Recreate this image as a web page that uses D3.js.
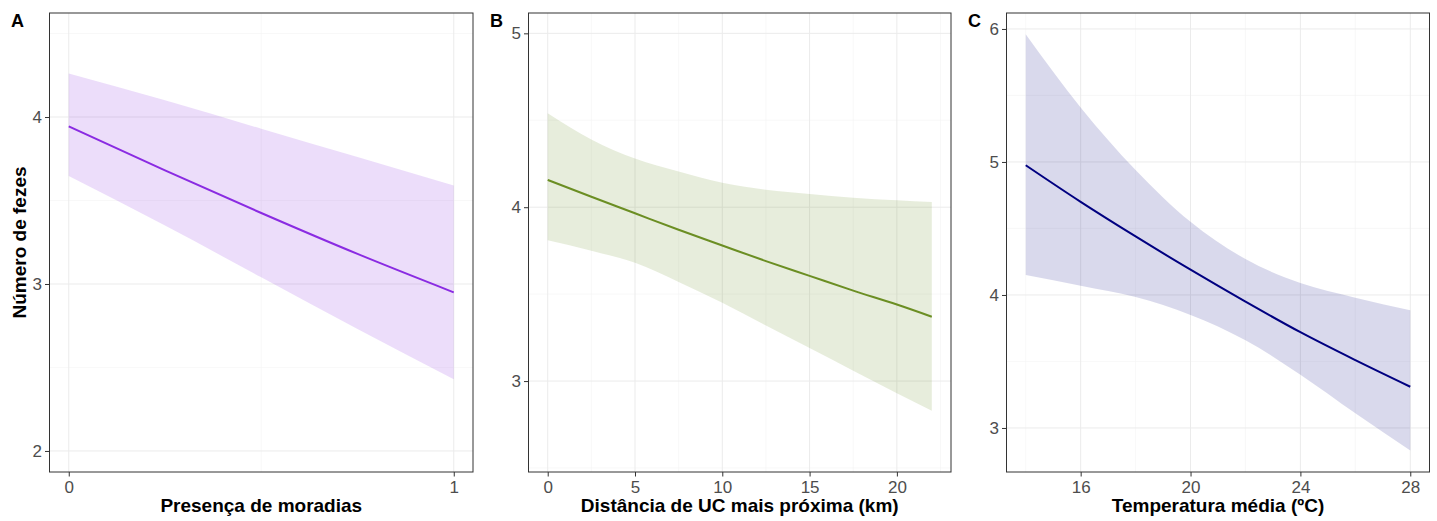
<!DOCTYPE html>
<html lang="pt">
<head>
  <meta charset="UTF-8">
  <title>Número de fezes</title>
  <script src="https://d3js.org/d3.v7.min.js"></script>
  <style>
    body { margin: 0; background: #fff; }
    svg { display: block; font-family: "Liberation Sans", Arial, sans-serif; }
    .grid line { stroke: #ebebeb; }
    .grid .minor { stroke: #f3f3f3; stroke-width: 0.6px; }
    .tick text { fill: #4d4d4d; font-size: 17px; }
    .tick line { stroke: #333; }
    .axtitle { font-weight: bold; font-size: 19px; fill: #000; }
    .tag { font-weight: bold; font-size: 18px; fill: #000; }
  </style>
</head>
<body>
  <svg width="1437" height="521"></svg>
  <script>
    // Painel A: presença de moradias
    const xA = [0, 0.25, 0.5, 0.75, 1];
    const fitA = [3.944, 3.68, 3.425, 3.18, 2.95];
    const upA = [4.26, 4.10, 3.93, 3.76, 3.59];
    const loA = [3.647, 3.35, 3.04, 2.73, 2.43];

    // Painel B: distância de UC (km)
    const xB = [0, 2.5, 5, 7.5, 10, 12.5, 15, 17.5, 20, 22];
    const fitB = [4.157, 4.06, 3.965, 3.87, 3.78, 3.69, 3.605, 3.52, 3.44, 3.37];
    const upB = [4.54, 4.39, 4.28, 4.205, 4.14, 4.10, 4.076, 4.055, 4.04, 4.03];
    const loB = [3.81, 3.75, 3.68, 3.57, 3.45, 3.32, 3.19, 3.06, 2.93, 2.83];

    // Painel C: temperatura média
    const xC = [14, 16, 18, 20, 22, 24, 26, 28];
    const fitC = [4.975, 4.70, 4.44, 4.19, 3.95, 3.72, 3.51, 3.31];
    const upC = [5.96, 5.41, 4.94, 4.55, 4.27, 4.09, 3.98, 3.885];
    const loC = [4.15, 4.07, 3.985, 3.85, 3.66, 3.40, 3.11, 2.83];

    const panels = [
      { tag: "A", left: 49.5, right: 473, xs: xA, fit: fitA, up: upA, lo: loA,
        xdom: [-0.05, 1.05], ydom: [1.874, 4.623],
        xticks: [0, 1], xminor: [0.5], yticks: [2, 3, 4], yminor: [2.5, 3.5, 4.5],
        line: "#8a2be2", fill: "rgba(138,43,226,0.16)",
        xlab: "Presença de moradias", ylab: "Número de fezes" },
      { tag: "B", left: 528.5, right: 951, xs: xB, fit: fitB, up: upB, lo: loB,
        xdom: [-1.1, 23.1], ydom: [2.477, 5.117],
        xticks: [0, 5, 10, 15, 20], xminor: [2.5, 7.5, 12.5, 17.5, 22.5], yticks: [3, 4, 5], yminor: [2.5, 3.5, 4.5],
        line: "#6b8e23", fill: "rgba(107,142,35,0.16)",
        xlab: "Distância de UC mais próxima (km)" },
      { tag: "C", left: 1006.5, right: 1429.5, xs: xC, fit: fitC, up: upC, lo: loC,
        xdom: [13.3, 28.7], ydom: [2.669, 6.12],
        xticks: [16, 20, 24, 28], xminor: [14, 18, 22, 26], yticks: [3, 4, 5, 6], yminor: [3.5, 4.5, 5.5],
        line: "#000080", fill: "rgba(0,0,128,0.15)",
        xlab: "Temperatura média (ºC)" }
    ];

    const plotTop = 13, plotBottom = 472;
    const svg = d3.select("svg");

    panels.forEach(p => {
      const x = d3.scaleLinear().domain(p.xdom).range([p.left, p.right]);
      const y = d3.scaleLinear().domain(p.ydom).range([plotBottom, plotTop]);
      const g = svg.append("g");

      // grade
      const grid = g.append("g").attr("class", "grid");
      grid.selectAll("line.minorx").data(p.xminor.filter(v => v > p.xdom[0] && v < p.xdom[1]))
        .enter().append("line").attr("class", "minor")
        .attr("x1", d => x(d)).attr("x2", d => x(d)).attr("y1", plotTop).attr("y2", plotBottom);
      grid.selectAll("line.minory").data(p.yminor.filter(v => v > p.ydom[0] && v < p.ydom[1]))
        .enter().append("line").attr("class", "minor")
        .attr("y1", d => y(d)).attr("y2", d => y(d)).attr("x1", p.left).attr("x2", p.right);
      grid.selectAll("line.majx").data(p.xticks)
        .enter().append("line")
        .attr("x1", d => x(d)).attr("x2", d => x(d)).attr("y1", plotTop).attr("y2", plotBottom);
      grid.selectAll("line.majy").data(p.yticks)
        .enter().append("line")
        .attr("y1", d => y(d)).attr("y2", d => y(d)).attr("x1", p.left).attr("x2", p.right);

      const rows = p.xs.map((v, i) => ({ x: v, fit: p.fit[i], up: p.up[i], lo: p.lo[i] }));

      g.append("path").datum(rows)
        .attr("fill", p.fill)
        .attr("d", d3.area().curve(d3.curveMonotoneX)
          .x(d => x(d.x)).y0(d => y(d.lo)).y1(d => y(d.up)));

      g.append("path").datum(rows)
        .attr("fill", "none").attr("stroke", p.line).attr("stroke-width", 2)
        .attr("d", d3.line().curve(d3.curveMonotoneX).x(d => x(d.x)).y(d => y(d.fit)));

      // eixos
      const ax = g.append("g").attr("transform", `translate(0,${plotBottom})`)
        .call(d3.axisBottom(x).tickValues(p.xticks).tickSize(4.5).tickPadding(4).tickFormat(d3.format("d")));
      ax.select(".domain").remove();
      const ay = g.append("g").attr("transform", `translate(${p.left},0)`)
        .call(d3.axisLeft(y).tickValues(p.yticks).tickSize(4.5).tickPadding(3).tickFormat(d3.format("d")));
      ay.select(".domain").remove();
      ax.attr("font-family", null).attr("font-size", null);
      ay.attr("font-family", null).attr("font-size", null);
      g.selectAll(".tick line").attr("stroke", "#333");

      g.append("rect")
        .attr("x", p.left).attr("y", plotTop)
        .attr("width", p.right - p.left).attr("height", plotBottom - plotTop)
        .attr("fill", "none").attr("stroke", "#333").attr("stroke-width", 1);

      g.append("text").attr("class", "axtitle")
        .attr("x", (p.left + p.right) / 2).attr("y", 512)
        .attr("text-anchor", "middle").text(p.xlab);

      if (p.ylab) {
        g.append("text").attr("class", "axtitle")
          .attr("transform", `translate(26,${(plotTop + plotBottom) / 2}) rotate(-90)`)
          .attr("text-anchor", "middle").text(p.ylab);
      }

      g.append("text").attr("class", "tag")
        .attr("x", p.left - 38.5).attr("y", 27).text(p.tag);
    });
  </script>
</body>
</html>
